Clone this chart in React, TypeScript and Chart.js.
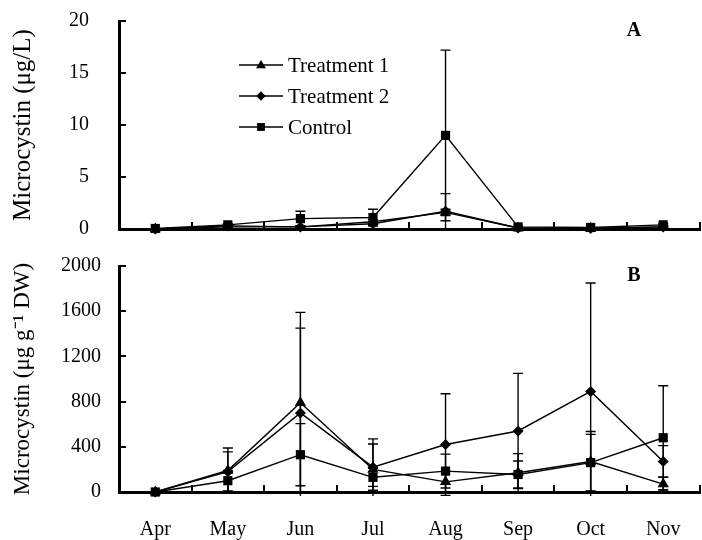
import React, { useEffect, useRef } from "react";
import { Chart, registerables } from "chart.js";

Chart.register(...registerables);

// ---------- data ----------
const months = ["Apr", "May", "Jun", "Jul", "Aug", "Sep", "Oct", "Nov"];
const seriesNames = ["Treatment 1", "Treatment 2", "Control"];

// Panel A: microcystin in water (µg/L)
const waterT1 = [0, 0.2, 0.2, 0.7, 1.6, 0.1, 0.05, 0.2];
const waterT2 = [0, 0.3, 0.2, 0.5, 1.7, 0.1, 0.05, 0.2];
const waterCtrl = [0.05, 0.4, 1.0, 1.1, 9.0, 0.2, 0.15, 0.4];
const waterT1Err = [0, 0.1, 0.1, 0.2, 0.3, 0, 0, 0.1];
const waterT2Err = [0, 0.1, 0.1, 0.2, 1.7, 0, 0, 0.1];
const waterCtrlErr = [0, 0.1, 0.7, 0.8, 8.2, 0.1, 0, 0.1];
const waterTicks = [0, 5, 10, 15, 20];

// Panel B: microcystin in algae (µg g-1 DW)
const algaeT1 = [0, 190, 790, 200, 90, 170, 270, 70];
const algaeT2 = [0, 180, 700, 220, 420, 540, 890, 270];
const algaeCtrl = [0, 100, 330, 130, 185, 155, 260, 480];
const algaeT1Err = [0, 200, 800, 270, 90, 170, 265, 60];
const algaeT2Err = [0, 175, 750, 205, 450, 510, 960, 140];
const algaeCtrlErr = [0, 90, 275, 80, 150, 120, 250, 460];
const algaeTicks = [0, 400, 800, 1200, 1600, 2000];

const pointStyles = ["triangle", "rectRot", "rect"];
const pointRadii = [6.5, 5.5, 6.5];

const FONT = "'Liberation Serif', 'Times New Roman', serif";
Chart.defaults.font.family = FONT;
Chart.defaults.color = "#000";

function drawMarker(ctx: CanvasRenderingContext2D, style: string, x: number, y: number, r: number) {
  ctx.beginPath();
  if (style === "triangle") {
    const h = r * 1.5;
    ctx.moveTo(x, y - h * 0.6);
    ctx.lineTo(x + r * 0.9, y + h * 0.4);
    ctx.lineTo(x - r * 0.9, y + h * 0.4);
    ctx.closePath();
  } else if (style === "rectRot") {
    ctx.moveTo(x, y - r);
    ctx.lineTo(x + r, y);
    ctx.lineTo(x, y + r);
    ctx.lineTo(x - r, y);
    ctx.closePath();
  } else {
    const s = r * Math.SQRT1_2;
    ctx.rect(x - s, y - s, 2 * s, 2 * s);
  }
  ctx.fill();
}

const errorBarPlugin = {
  id: "errorBars",
  beforeDatasetsDraw(chart: any) {
    const { ctx, chartArea } = chart;
    const yScale = chart.scales.y;
    ctx.save();
    ctx.beginPath();
    ctx.rect(chartArea.left, chartArea.top - 2, chartArea.right - chartArea.left, chartArea.bottom - chartArea.top + 6);
    ctx.clip();
    ctx.strokeStyle = "#000";
    ctx.lineWidth = 1.4;
    chart.data.datasets.forEach((ds: any, di: number) => {
      const errs: number[] = ds.errors || [];
      const meta = chart.getDatasetMeta(di);
      meta.data.forEach((pt: any, i: number) => {
        const e = errs[i];
        if (!e) return;
        const v = ds.data[i];
        const yTop = yScale.getPixelForValue(v + e);
        const yBot = yScale.getPixelForValue(v - e);
        const x = pt.x;
        const cap = 5;
        ctx.beginPath();
        ctx.moveTo(x, yTop);
        ctx.lineTo(x, yBot);
        ctx.moveTo(x - cap, yTop);
        ctx.lineTo(x + cap, yTop);
        ctx.moveTo(x - cap, yBot);
        ctx.lineTo(x + cap, yBot);
        ctx.stroke();
      });
    });
    ctx.restore();
  },
};

const panelLabelPlugin = {
  id: "panelLabel",
  afterDraw(chart: any, _args: any, opts: any) {
    if (!opts || !opts.text) return;
    const { ctx } = chart;
    ctx.save();
    ctx.font = `bold 20px ${FONT}`;
    ctx.fillStyle = "#000";
    ctx.textAlign = "center";
    ctx.textBaseline = "middle";
    ctx.fillText(opts.text, opts.x, opts.y);
    ctx.restore();
  },
};

const customLegendPlugin = {
  id: "customLegend",
  afterDraw(chart: any, _args: any, opts: any) {
    if (!opts || !opts.show) return;
    const { ctx } = chart;
    ctx.save();
    chart.data.datasets.forEach((ds: any, i: number) => {
      const y = opts.y + i * opts.rowGap;
      const x0 = opts.x;
      const x1 = opts.x + opts.lineLen;
      ctx.strokeStyle = "#000";
      ctx.lineWidth = 1.4;
      ctx.beginPath();
      ctx.moveTo(x0, y);
      ctx.lineTo(x1, y);
      ctx.stroke();
      ctx.fillStyle = "#000";
      drawMarker(ctx, ds.pointStyle, (x0 + x1) / 2, y, ds.pointRadius * 0.85);
      ctx.font = `21px ${FONT}`;
      ctx.textAlign = "left";
      ctx.textBaseline = "middle";
      ctx.fillText(ds.label, x1 + 5, y + 1);
    });
    ctx.restore();
  },
};

function makeDatasets(values: number[][], errs: number[][]) {
  return values.map((vals, i) => ({
    label: seriesNames[i],
    data: vals,
    errors: errs[i],
    borderColor: "#000",
    backgroundColor: "#000",
    borderWidth: 1.4,
    pointStyle: pointStyles[i],
    pointRadius: pointRadii[i],
    pointBorderWidth: 0,
    pointBackgroundColor: "#000",
    tension: 0,
    clip: false,
  }));
}

function makeOptions(cfg: {
  max: number;
  ticks: number[];
  title: string;
  titleSize: number;
  labelPad: number;
  showX: boolean;
  xHeight: number;
  padTop: number;
  letter: string;
  letterY: number;
  legend: boolean;
}) {
  return {
    responsive: false,
    animation: false,
    devicePixelRatio: 1,
    layout: { padding: { left: 0, right: 1, top: cfg.padTop, bottom: 0 } },
    plugins: {
      legend: { display: false },
      tooltip: { enabled: false },
      panelLabel: { text: cfg.letter, x: 634, y: cfg.letterY },
      customLegend: { show: cfg.legend, x: 239, y: 65, rowGap: 31, lineLen: 44 },
    },
    scales: {
      x: {
        type: "category",
        offset: true,
        grid: {
          offset: true,
          drawOnChartArea: false,
          drawTicks: true,
          tickLength: -7,
          color: "#000",
          lineWidth: 2,
        },
        border: { display: true, color: "#000", width: 3 },
        ticks: {
          display: cfg.showX,
          padding: 33,
          font: { size: 20, family: FONT },
          color: "#000",
          maxRotation: 0,
        },
        afterFit: (s: any) => {
          s.height = cfg.xHeight;
          s.paddingLeft = 0;
          s.paddingRight = 0;
        },
      },
      y: {
        type: "linear",
        min: 0,
        max: cfg.max,
        afterBuildTicks: (s: any) => {
          s.ticks = cfg.ticks.map((v) => ({ value: v }));
        },
        grid: {
          drawOnChartArea: false,
          drawTicks: true,
          tickLength: -7,
          color: "#000",
          lineWidth: 2,
        },
        border: { display: true, color: "#000", width: 3 },
        ticks: {
          padding: cfg.labelPad,
          font: { size: 20, family: FONT },
          color: "#000",
          callback: (v: any) => String(v),
        },
        title: {
          display: true,
          text: cfg.title,
          font: { size: cfg.titleSize, family: FONT },
          color: "#000",
          padding: { top: 23 - (cfg.titleSize * 1.2) / 2, bottom: 0 },
        },
        afterFit: (s: any) => {
          s.width = 119;
          s.paddingTop = 0;
          s.paddingBottom = 0;
        },
      },
    },
  };
}

export default function App() {
  const topRef = useRef<HTMLCanvasElement>(null);
  const botRef = useRef<HTMLCanvasElement>(null);

  useEffect(() => {
    const top = new Chart(topRef.current as HTMLCanvasElement, {
      type: "line",
      data: {
        labels: months,
        datasets: makeDatasets([waterT1, waterT2, waterCtrl], [waterT1Err, waterT2Err, waterCtrlErr]) as any,
      },
      options: makeOptions({
        max: 20,
        ticks: waterTicks,
        title: "Microcystin (μg/L)",
        titleSize: 25,
        labelPad: 37,
        showX: false,
        xHeight: 11,
        padTop: 21,
        letter: "A",
        letterY: 31,
        legend: true,
      }) as any,
      plugins: [errorBarPlugin, panelLabelPlugin, customLegendPlugin],
    });
    const bot = new Chart(botRef.current as HTMLCanvasElement, {
      type: "line",
      data: {
        labels: months,
        datasets: makeDatasets([algaeT1, algaeT2, algaeCtrl], [algaeT1Err, algaeT2Err, algaeCtrlErr]) as any,
      },
      options: makeOptions({
        max: 2000,
        ticks: algaeTicks,
        title: "Microcystin (μg g⁻¹ DW)",
        titleSize: 23,
        labelPad: 25,
        showX: true,
        xHeight: 48,
        padTop: 26,
        letter: "B",
        letterY: 36,
        legend: false,
      }) as any,
      plugins: [errorBarPlugin, panelLabelPlugin, customLegendPlugin],
    });
    return () => {
      top.destroy();
      bot.destroy();
    };
  }, []);

  return (
    <div
      style={{
        position: "absolute",
        left: 0,
        top: 0,
        width: 702,
        height: 540,
        overflow: "hidden",
        background: "#fff",
      }}
    >
      <div style={{ position: "absolute", left: 0, top: 0, width: 706, height: 240 }}>
        <canvas ref={topRef} width={706} height={240} style={{ display: "block" }} />
      </div>
      <div style={{ position: "absolute", left: 0, top: 240, width: 706, height: 300 }}>
        <canvas ref={botRef} width={706} height={300} style={{ display: "block" }} />
      </div>
    </div>
  );
}
